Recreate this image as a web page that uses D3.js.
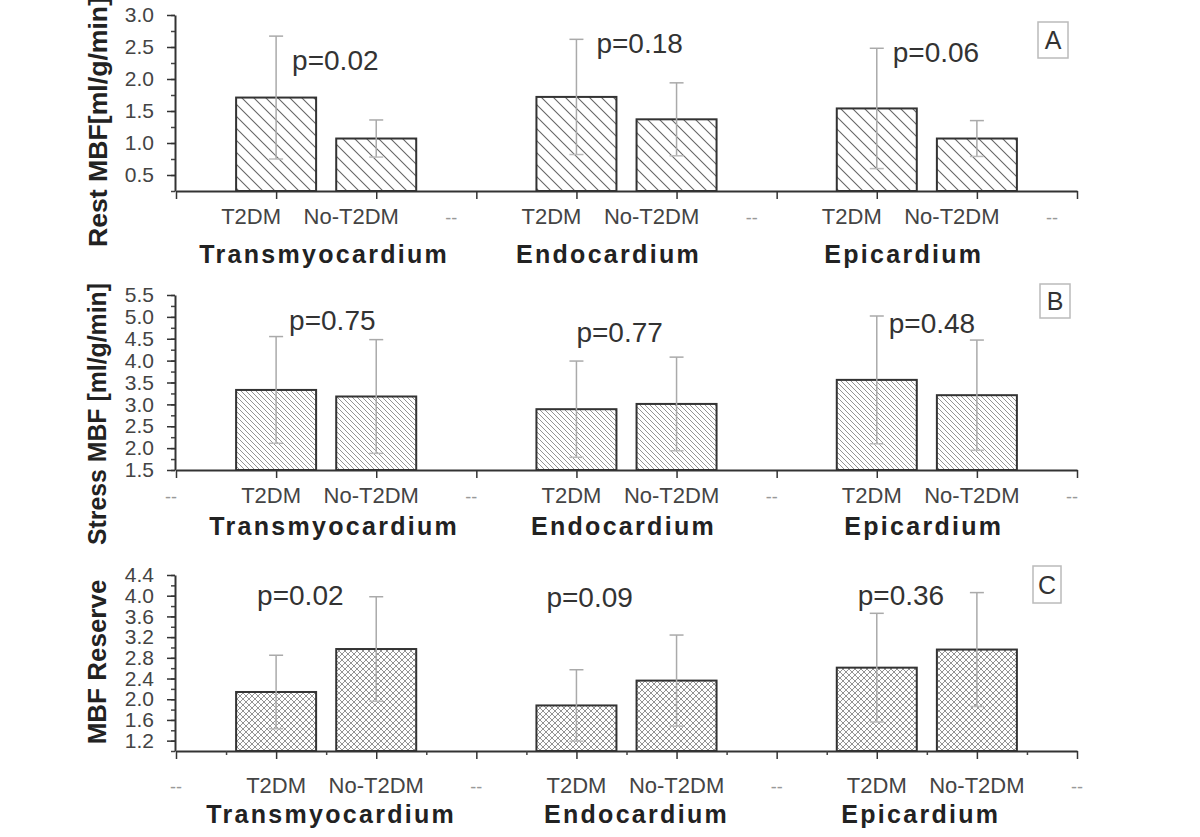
<!DOCTYPE html>
<html>
<head>
<meta charset="utf-8">
<script src="https://cdn.jsdelivr.net/npm/d3@7"></script>
<style>
  body { margin: 0; background: #fff; }
  svg { display: block; font-family: "Liberation Sans", Arial, sans-serif; }
</style>
</head>
<body>
<div class="canvas"></div>
<script>
// data
const groups = ['Transmyocardium', 'Endocardium', 'Epicardium'];
const tickLabels = ['--', 'T2DM', 'No-T2DM', '--', 'T2DM', 'No-T2DM', '--', 'T2DM', 'No-T2DM', '--'];

const restMean = [1.71, 1.07, 1.72, 1.37, 1.54, 1.07];
const restSD = [0.96, 0.29, 0.90, 0.57, 0.94, 0.28];
const restP = ['p=0.02', 'p=0.18', 'p=0.06'];
const restTicks = [0.5, 1.0, 1.5, 2.0, 2.5, 3.0];

const stressMean = [3.33, 3.18, 2.89, 3.01, 3.56, 3.21];
const stressSD = [1.22, 1.30, 1.10, 1.07, 1.46, 1.26];
const stressP = ['p=0.75', 'p=0.77', 'p=0.48'];
const stressTicks = [1.5, 2.0, 2.5, 3.0, 3.5, 4.0, 4.5, 5.0, 5.5];

const reserveMean = [2.14, 2.97, 1.88, 2.36, 2.61, 2.96];
const reserveSD = [0.71, 1.01, 0.69, 0.88, 1.05, 1.10];
const reserveP = ['p=0.02', 'p=0.09', 'p=0.36'];
const reserveTicks = [1.2, 1.6, 2.0, 2.4, 2.8, 3.2, 3.6, 4.0, 4.4];

// layout of each panel
const panels = [
  { letter: 'A', title: 'Rest MBF[ml/g/min]', mean: restMean, sd: restSD, p: restP, ticks: restTicks,
    domain: [0.25, 3.0], range: [191, 15], minorStep: 0.25, pattern: 'hatchA', tickFont: 21,
    labelDx: -25, firstLabel: 1, tickY: 224, groupY: 263, groupDx: [-2, -18, -23],
    pDx: [16, 20, 16], pY: [70, 53, 62], box: [1038, 22, 30, 36],
    titleX: 98, titleY: 122, titleLen: 250 },
  { letter: 'B', title: 'Stress  MBF [ml/g/min]', mean: stressMean, sd: stressSD, p: stressP, ticks: stressTicks,
    domain: [1.5, 5.5], range: [470, 295], minorStep: 0.25, pattern: 'hatchB', tickFont: 21,
    labelDx: -5, firstLabel: 0, tickY: 503, groupY: 535, groupDx: [8, -3, -3],
    pDx: [13, 0, 12], pY: [330, 342, 333], box: [1040, 284, 30, 34],
    titleX: 97, titleY: 414, titleLen: 262 },
  { letter: 'C', title: 'MBF Reserve', mean: reserveMean, sd: reserveSD, p: reserveP, ticks: reserveTicks,
    domain: [1.0, 4.4], range: [751, 575], minorStep: 0.2, pattern: 'hatchC', tickFont: 21,
    labelDx: 0, firstLabel: 0, tickY: 793, groupY: 823, groupDx: [5, 10, -6],
    pDx: [-19, -30, -19], pY: [605, 607, 605], box: [1033, 566, 28, 37],
    titleX: 97, titleY: 662, titleLen: null }
];

const width = 1200, height = 837;
const barWidth = 80;

const svg = d3.select('.canvas')
  .append('svg')
  .attr('width', width)
  .attr('height', height);

// hatch patterns
const defs = svg.append('defs');
const pA = defs.append('pattern').attr('id', 'hatchA')
  .attr('patternUnits', 'userSpaceOnUse').attr('width', 12).attr('height', 12);
pA.append('path').attr('d', 'M-3,-3L15,15M-3,9L3,15M9,-3L15,3')
  .attr('stroke', '#666').attr('stroke-width', 1.1);

const pB = defs.append('pattern').attr('id', 'hatchB')
  .attr('patternUnits', 'userSpaceOnUse').attr('width', 5).attr('height', 5);
pB.append('path').attr('d', 'M-1,-1L6,6M-1,4L1,6M4,-1L6,1')
  .attr('stroke', '#888').attr('stroke-width', 0.9);

const pC = defs.append('pattern').attr('id', 'hatchC')
  .attr('patternUnits', 'userSpaceOnUse').attr('width', 6).attr('height', 6);
pC.append('path').attr('d', 'M-1,-1L7,7M-1,5L1,7M5,-1L7,1M-1,7L7,-1M-1,1L1,-1M5,7L7,5')
  .attr('stroke', '#888').attr('stroke-width', 0.9);

const x = d3.scaleLinear().domain([0, 9]).range([176, 1077]);

panels.forEach(pn => {
  const g = svg.append('g');
  const y = d3.scaleLinear().domain(pn.domain).range(pn.range);
  const bottom = pn.range[0];

  // minor y ticks
  const minor = d3.range(pn.domain[0], pn.domain[1] + 1e-6, pn.minorStep);
  g.append('g')
    .attr('transform', 'translate(175,0)')
    .call(d3.axisLeft(y).tickValues(minor).tickSize(4).tickFormat(''))
    .call(a => a.select('.domain').remove())
    .call(a => a.selectAll('line').attr('stroke', '#444').attr('stroke-width', 1.5));

  // major y ticks
  const yAxis = g.append('g')
    .attr('transform', 'translate(175,0)')
    .call(d3.axisLeft(y).tickValues(pn.ticks).tickSize(8).tickSizeOuter(0).tickFormat(d3.format('.1f')));
  yAxis.select('.domain').attr('stroke', '#333').attr('stroke-width', 2);
  yAxis.selectAll('line').attr('stroke', '#333').attr('stroke-width', 1.5);
  yAxis.selectAll('text').attr('font-size', pn.tickFont).attr('fill', '#444').attr('x', -21)
    .style('font-family', '"Liberation Sans", Arial, sans-serif');

  // bars
  const bars = pn.mean.map((m, i) => ({ pos: Math.floor(i / 2) * 3 + 1 + (i % 2), mean: m, sd: pn.sd[i] }));

  g.selectAll('rect.bar').data(bars).enter()
    .append('rect').attr('class', 'bar')
    .attr('x', d => x(d.pos) - barWidth / 2)
    .attr('y', d => y(d.mean))
    .attr('width', barWidth)
    .attr('height', d => bottom - y(d.mean))
    .attr('fill', `url(#${pn.pattern})`)
    .attr('stroke', '#333')
    .attr('stroke-width', 2);

  // error bars
  const eb = g.selectAll('g.err').data(bars).enter().append('g').attr('class', 'err')
    .attr('stroke', '#aaa').attr('stroke-width', 1.5);
  eb.append('line')
    .attr('x1', d => x(d.pos)).attr('x2', d => x(d.pos))
    .attr('y1', d => y(d.mean + d.sd)).attr('y2', d => y(Math.max(d.mean - d.sd, pn.domain[0])));
  eb.append('line')
    .attr('x1', d => x(d.pos) - 7).attr('x2', d => x(d.pos) + 7)
    .attr('y1', d => y(d.mean + d.sd)).attr('y2', d => y(d.mean + d.sd));
  eb.append('line')
    .attr('x1', d => x(d.pos) - 7).attr('x2', d => x(d.pos) + 7)
    .attr('y1', d => y(d.mean - d.sd)).attr('y2', d => y(d.mean - d.sd))
    .attr('stroke', '#bbb');

  // x axis
  const xAxis = g.append('g')
    .attr('transform', `translate(0,${bottom})`)
    .call(d3.axisBottom(x).tickValues(d3.range(10)).tickSize(8).tickSizeOuter(0).tickFormat(''));
  xAxis.select('.domain').attr('stroke', '#333').attr('stroke-width', 2);
  xAxis.selectAll('line').attr('stroke', '#333').attr('stroke-width', 1.5);

  if (pn.letter === 'C') {
    g.append('g')
      .attr('transform', `translate(0,${bottom})`)
      .call(d3.axisBottom(x).tickValues(d3.range(0.5, 9, 1)).tickSize(4).tickFormat(''))
      .call(a => a.select('.domain').remove())
      .call(a => a.selectAll('line').attr('stroke', '#444').attr('stroke-width', 1.5));
  }

  // category labels
  g.selectAll('text.cat').data(tickLabels.map((t, i) => ({ t, i })).filter(d => d.i >= pn.firstLabel))
    .enter().append('text').attr('class', 'cat')
    .attr('x', d => x(d.i) + pn.labelDx)
    .attr('y', pn.tickY)
    .attr('text-anchor', 'middle')
    .attr('font-size', d => d.t === '--' ? 18 : 22)
    .attr('fill', d => d.t === '--' ? '#999' : '#444')
    .text(d => d.t);

  // group labels
  g.selectAll('text.grp').data(groups).enter()
    .append('text').attr('class', 'grp')
    .attr('x', (d, i) => (x(i * 3 + 1) + x(i * 3 + 2)) / 2 + pn.groupDx[i])
    .attr('y', pn.groupY)
    .attr('text-anchor', 'middle')
    .attr('font-size', 25)
    .attr('font-weight', 'bold')
    .attr('letter-spacing', 2.3)
    .attr('fill', '#222')
    .text(d => d);

  // p values
  g.selectAll('text.pv').data(pn.p).enter()
    .append('text').attr('class', 'pv')
    .attr('x', (d, i) => x(i * 3 + 1) + pn.pDx[i])
    .attr('y', (d, i) => pn.pY[i])
    .attr('font-size', 28)
    .attr('fill', '#333')
    .text(d => d);

  // panel letter
  const [bx, by, bw, bh] = pn.box;
  g.append('rect').attr('x', bx).attr('y', by).attr('width', bw).attr('height', bh)
    .attr('fill', '#fff').attr('stroke', '#bbb').attr('stroke-width', 1.5);
  g.append('text')
    .attr('x', bx + bw / 2).attr('y', by + bh / 2 + 9)
    .attr('text-anchor', 'middle')
    .attr('font-size', 25)
    .attr('fill', '#333')
    .text(pn.letter);

  // y title
  const title = g.append('text')
    .attr('transform', `translate(${pn.titleX + 9},${pn.titleY}) rotate(-90)`)
    .attr('text-anchor', 'middle')
    .attr('font-size', 26)
    .attr('font-weight', 'bold')
    .attr('fill', '#222')
    .text(pn.title);
  if (pn.titleLen) title.attr('textLength', pn.titleLen).attr('lengthAdjust', 'spacingAndGlyphs');
});
</script>
</body>
</html>
